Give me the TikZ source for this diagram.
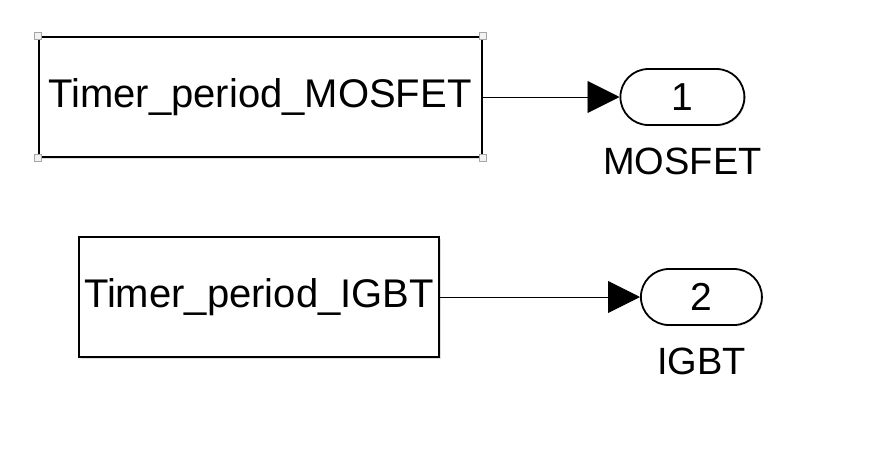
\documentclass[tikz,border=0pt]{standalone}
\usepackage{fontspec}
\setmainfont{Liberation Sans}
\usepackage{tikz}
\usetikzlibrary{positioning, arrows.meta, shadows}
\tikzset{
	x=1pt, y=-1pt, % one unit is one pixel of the model view
	block/.style={draw, line width=2pt, fill=white, inner sep=0pt, font=\fontsize{40}{48}\selectfont,
		drop shadow={shadow xshift=1.5pt, shadow yshift=-1.5pt, opacity=0.25}}, % constant blocks
	outport/.style={draw, line width=1.8pt, fill=white, rounded corners=28pt, inner sep=0pt,
		minimum height=56pt, font=\fontsize{39}{46}\selectfont,
		drop shadow={shadow xshift=1.2pt, shadow yshift=-1.2pt, opacity=0.25}}, % output ports
	portname/.style={inner sep=0pt, font=\fontsize{38}{46}\selectfont}, % name under a port
	handle/.style={draw=gray!70, fill=gray!10, line width=0.9pt, minimum size=7pt, inner sep=0pt}, % selection marks
	signal/.style={line width=0.9pt, -{Triangle[length=32pt, width=32pt]}}, % signal lines
}
\begin{document}
\begin{tikzpicture}
	\useasboundingbox (0,0) rectangle (888,451);
	\node[block, minimum width=443pt, minimum height=120pt] at (260,97) (c1) {Timer\_period\_MOSFET};
	\node[block, minimum width=360pt, minimum height=120pt] at (259,297) (c2) {Timer\_period\_IGBT};
	\node[outport, minimum width=124pt, right=137pt of c1] (o1) {1};
	\node[outport, minimum width=121pt, right=200pt of c2] (o2) {2};
	\node[portname, below=22pt of o1] (n1) {MOSFET};
	\node[portname, below=22pt of o2] (n2) {IGBT};
	% selection marks on the first block
	\foreach \a [count=\i] in {north west, north east, south west, south east}
		\node[handle] at (c1.\a) (h\i) {};
	\draw[signal] (c1) -- (o1);
	\draw[signal] (c2) -- (o2);
\end{tikzpicture}
\end{document}
